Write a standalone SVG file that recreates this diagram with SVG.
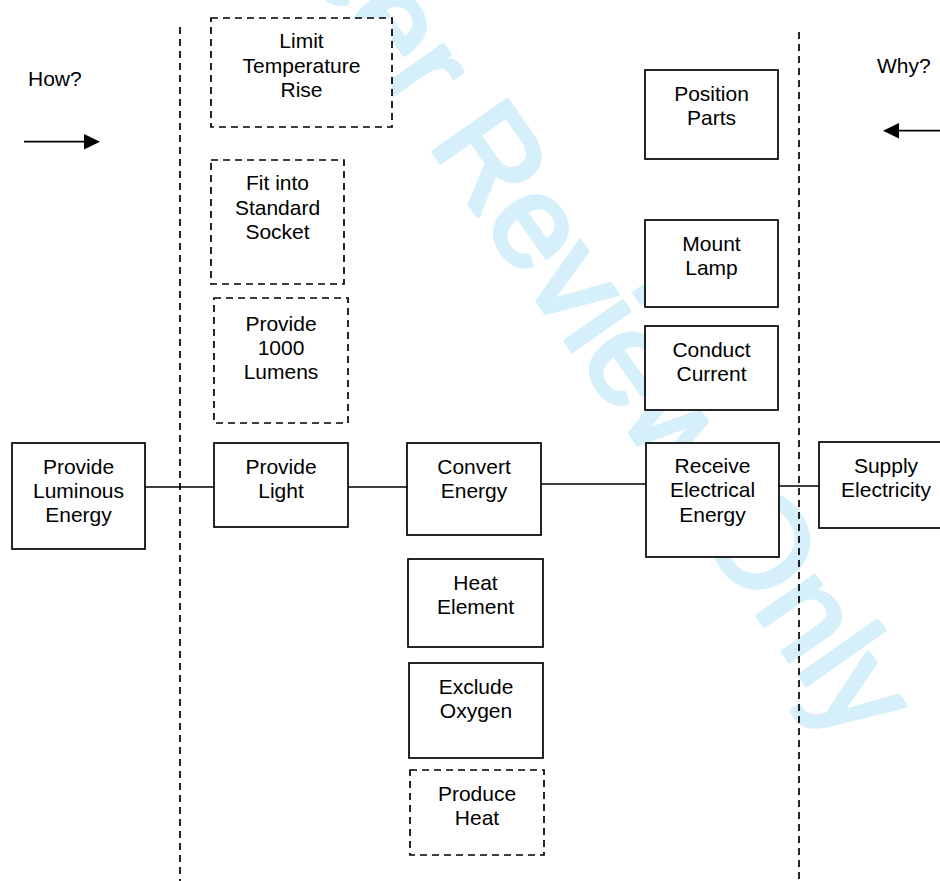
<svg xmlns="http://www.w3.org/2000/svg" width="940" height="881" viewBox="0 0 940 881">
<style>
.box{fill:#fff;stroke:#000;stroke-width:1.7}
.dash{stroke-dasharray:7 5}
.t{font-family:"Liberation Sans",Arial,sans-serif;font-size:21px;fill:#000;text-anchor:middle}
.lab{font-family:"Liberation Sans",Arial,sans-serif;font-size:21px;fill:#000}
.wm{font-family:"Liberation Sans",Arial,sans-serif;font-size:131px;fill:#d5effb;stroke:#d5effb;stroke-width:4.5;stroke-linejoin:round}
.ln{stroke:#000;stroke-width:1.7;fill:none}
</style>
<rect width="940" height="881" fill="#fff"/>
<text class="wm" transform="translate(114,-304) rotate(55)">For Peer Review Only</text>
<g id="dividers">
<line class="ln dash" x1="180" y1="27" x2="180" y2="881"/>
<line class="ln dash" x1="799" y1="32" x2="799" y2="881"/>
</g>
<g id="how">
<text class="lab" x="28" y="86">How?</text>
<line class="ln" x1="24" y1="141.7" x2="88" y2="141.7"/>
<polygon points="84,134 100,141.7 84,149.4" fill="#000"/>
</g>
<g id="why">
<text class="lab" x="877" y="72.7">Why?</text>
<line class="ln" x1="895" y1="130.7" x2="940" y2="130.7"/>
<polygon points="899,123 883,130.7 899,138.4" fill="#000"/>
</g>
<g id="connectors">
<line class="ln" x1="145" y1="487" x2="214" y2="487"/>
<line class="ln" x1="348" y1="487" x2="407" y2="487"/>
<line class="ln" x1="541" y1="484" x2="646" y2="484"/>
<line class="ln" x1="779" y1="486" x2="819" y2="486"/>
</g>
<g id="limit-temperature-rise">
<rect class="box dash" x="211" y="18" width="181" height="109"/>
<text class="t" x="301.5" y="48">Limit</text>
<text class="t" x="301.5" y="72.7">Temperature</text>
<text class="t" x="301.5" y="96.7">Rise</text>
</g>
<g id="fit-into-standard-socket">
<rect class="box dash" x="211" y="160" width="133" height="124"/>
<text class="t" x="277.5" y="190">Fit into</text>
<text class="t" x="277.5" y="215">Standard</text>
<text class="t" x="277.5" y="239">Socket</text>
</g>
<g id="provide-1000-lumens">
<rect class="box dash" x="214" y="298" width="134" height="125"/>
<text class="t" x="281" y="331">Provide</text>
<text class="t" x="281" y="355">1000</text>
<text class="t" x="281" y="379">Lumens</text>
</g>
<g id="provide-luminous-energy">
<rect class="box" x="12" y="443" width="133" height="106"/>
<text class="t" x="78.5" y="474">Provide</text>
<text class="t" x="78.5" y="498">Luminous</text>
<text class="t" x="78.5" y="522">Energy</text>
</g>
<g id="provide-light">
<rect class="box" x="214" y="443" width="134" height="84"/>
<text class="t" x="281" y="474">Provide</text>
<text class="t" x="281" y="498">Light</text>
</g>
<g id="convert-energy">
<rect class="box" x="407" y="443" width="134" height="92"/>
<text class="t" x="474" y="474">Convert</text>
<text class="t" x="474" y="498">Energy</text>
</g>
<g id="heat-element">
<rect class="box" x="408" y="559" width="135" height="88"/>
<text class="t" x="475.5" y="590">Heat</text>
<text class="t" x="475.5" y="614">Element</text>
</g>
<g id="exclude-oxygen">
<rect class="box" x="409" y="663" width="134" height="95"/>
<text class="t" x="476" y="694">Exclude</text>
<text class="t" x="476" y="718">Oxygen</text>
</g>
<g id="produce-heat">
<rect class="box dash" x="410" y="770" width="134" height="85"/>
<text class="t" x="477" y="801">Produce</text>
<text class="t" x="477" y="825">Heat</text>
</g>
<g id="position-parts">
<rect class="box" x="645" y="70" width="133" height="89"/>
<text class="t" x="711.5" y="101">Position</text>
<text class="t" x="711.5" y="125">Parts</text>
</g>
<g id="mount-lamp">
<rect class="box" x="645" y="220" width="133" height="87"/>
<text class="t" x="711.5" y="251">Mount</text>
<text class="t" x="711.5" y="275">Lamp</text>
</g>
<g id="conduct-current">
<rect class="box" x="645" y="326" width="133" height="84"/>
<text class="t" x="711.5" y="357">Conduct</text>
<text class="t" x="711.5" y="381">Current</text>
</g>
<g id="receive-electrical-energy">
<rect class="box" x="646" y="443" width="133" height="114"/>
<text class="t" x="712.5" y="473">Receive</text>
<text class="t" x="712.5" y="497">Electrical</text>
<text class="t" x="712.5" y="522">Energy</text>
</g>
<g id="supply-electricity">
<rect class="box" x="819" y="442" width="134" height="86"/>
<text class="t" x="886" y="473">Supply</text>
<text class="t" x="886" y="497">Electricity</text>
</g>
</svg>
